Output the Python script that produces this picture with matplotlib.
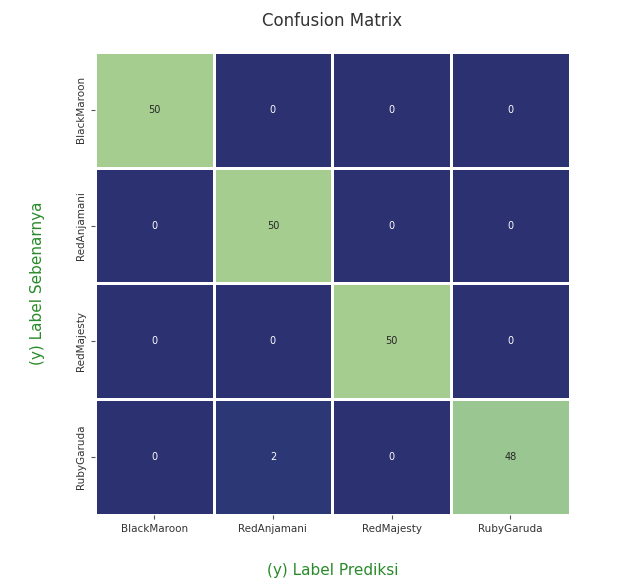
import matplotlib
matplotlib.use("Agg")
import matplotlib.pyplot as plt
import seaborn as sns
import numpy as np

# Class labels and confusion matrix values
labels = ["BlackMaroon", "RedAnjamani", "RedMajesty", "RubyGaruda"]
cm = np.array([
    [50, 0, 0, 0],
    [0, 50, 0, 0],
    [0, 0, 50, 0],
    [0, 2, 0, 48],
])

fig = plt.figure(figsize=(6.24, 5.81), dpi=100)
ax = fig.add_axes([0.152, 0.1136, 0.761, 0.797])

sns.heatmap(cm, annot=True, fmt="d", cmap="crest_r", cbar=False,
            linewidths=2, linecolor="white",
            xticklabels=labels, yticklabels=labels,
            annot_kws={"size": 7}, ax=ax)

ax.set_title("Confusion Matrix", fontsize=12, pad=19, color="#333333")
ax.set_xlabel("(y) Label Prediksi", fontsize=11, color="#2a8a2a", labelpad=21)
ax.set_ylabel("(y) Label Sebenarnya", fontsize=11, color="#2a8a2a", labelpad=22)
ax.tick_params(axis="both", labelsize=7.5, length=3, color="#555555",
               labelcolor="#333333")
plt.setp(ax.get_yticklabels(), rotation=90, va="center")

fig.savefig("out.png", dpi=100)
